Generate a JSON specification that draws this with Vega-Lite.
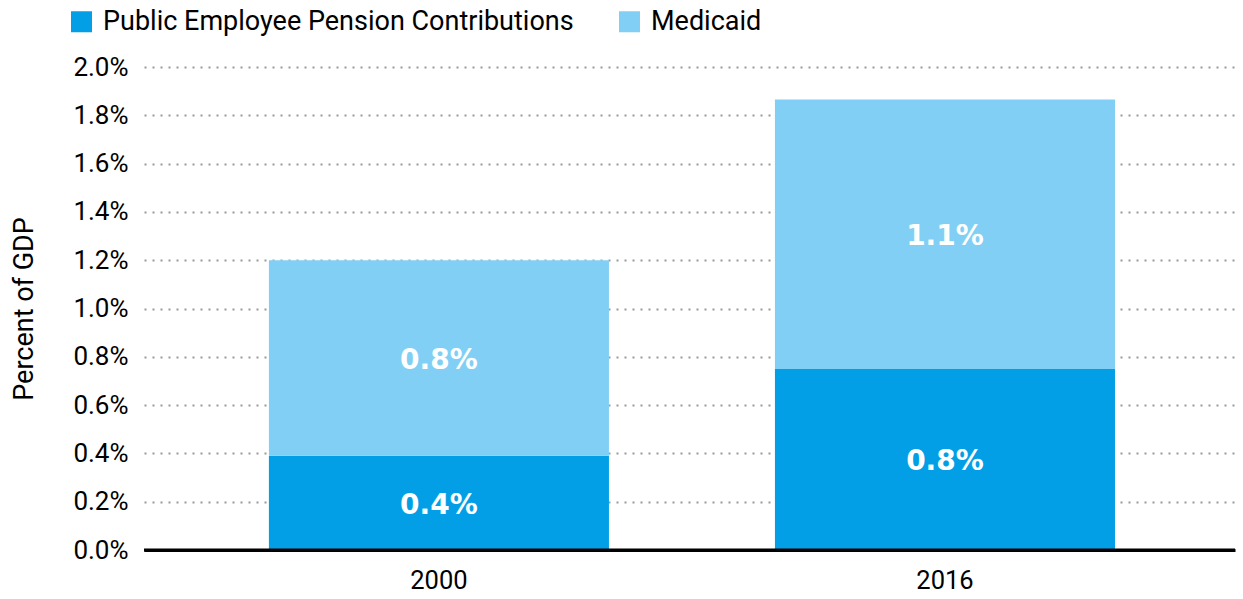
{
  "$schema": "https://vega.github.io/schema/vega-lite/v6.json",
  "autosize": {"type": "none"},
  "width": 1091,
  "height": 483,
  "padding": {"left": 144, "top": 67, "right": 8, "bottom": 49},
  "background": "white",
  "config": {
    "font": "Roboto",
    "view": {"stroke": null}
  },
  "data": {
    "values": [
      {"year": "2000", "series": "Public Employee Pension Contributions", "order": 1, "value": 0.39},
      {"year": "2000", "series": "Medicaid", "order": 2, "value": 0.81},
      {"year": "2016", "series": "Public Employee Pension Contributions", "order": 1, "value": 0.75},
      {"year": "2016", "series": "Medicaid", "order": 2, "value": 1.115}
    ]
  },
  "transform": [
    {"stack": "value", "groupby": ["year"], "sort": [{"field": "order"}], "as": ["y0", "y1"]},
    {"calculate": "(datum.y0 + datum.y1) / 2", "as": "mid"},
    {"calculate": "format(datum.value, '.1f') + '%'", "as": "label"}
  ],
  "layer": [
    {
      "mark": {"type": "bar"},
      "encoding": {
        "x": {
          "field": "year", "type": "nominal",
          "scale": {"paddingInner": 0.328, "paddingOuter": 0.242, "align": 0.51},
          "axis": {
            "title": null, "labelAngle": 0, "labelFontSize": 25.5, "labelColor": "#000",
            "labelPadding": 18, "ticks": false, "domainColor": "#000", "domainWidth": 3,
            "grid": false
          }
        },
        "y": {
          "field": "y0", "type": "quantitative",
          "scale": {"domain": [0, 2], "nice": false},
          "axis": {
            "title": "Percent of GDP", "titleFontSize": 27, "titleFontWeight": "normal",
            "titleColor": "#000", "titlePadding": 34,
            "values": [0, 0.2, 0.4, 0.6, 0.8, 1.0, 1.2, 1.4, 1.6, 1.8, 2.0],
            "labelExpr": "format(datum.value, '.1f') + '%'",
            "labelFontSize": 26, "labelColor": "#000", "labelPadding": 16,
            "ticks": false, "domain": false,
            "grid": true, "gridColor": "#999", "gridDash": [2, 6], "gridWidth": 2
          }
        },
        "y2": {"field": "y1"},
        "color": {
          "field": "series", "type": "nominal",
          "scale": {
            "domain": ["Public Employee Pension Contributions", "Medicaid"],
            "range": ["#039FE6", "#81CFF4"]
          },
          "legend": {
            "title": null, "orient": "none", "direction": "horizontal",
            "legendX": -76, "legendY": -59,
            "symbolType": "square", "symbolSize": 441, "symbolStrokeWidth": 0,
            "labelFontSize": 27, "labelColor": "#000", "labelLimit": 0,
            "columnPadding": 42, "labelOffset": 8
          }
        }
      }
    },
    {
      "mark": {"type": "rule", "color": "#000", "strokeWidth": 3},
      "data": {"values": [{"v": 0}]},
      "encoding": {"y": {"field": "v", "type": "quantitative"}}
    },
    {
      "mark": {"type": "text", "color": "white", "font": "DejaVu Sans", "fontSize": 28, "fontWeight": "bold", "baseline": "middle", "dy": 3},
      "encoding": {
        "x": {"field": "year", "type": "nominal"},
        "y": {"field": "mid", "type": "quantitative"},
        "text": {"field": "label"}
      }
    }
  ]
}
